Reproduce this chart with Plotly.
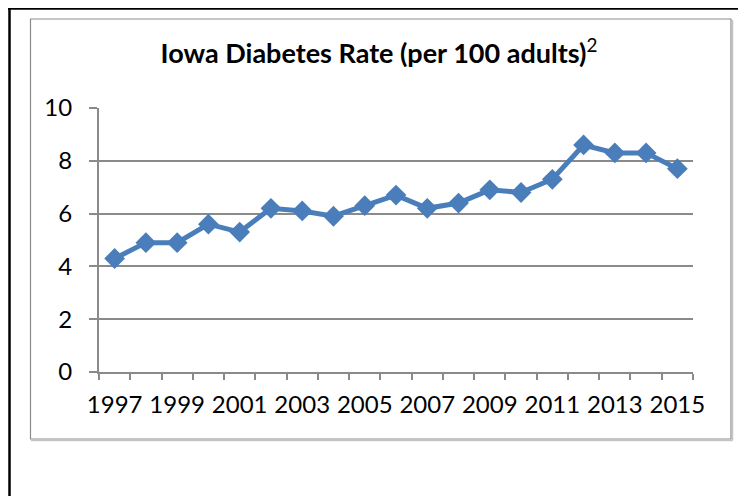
import plotly.graph_objects as go

years = [str(y) for y in range(1997, 2016)]
rates = [4.3, 4.9, 4.9, 5.6, 5.3, 6.2, 6.1, 5.9, 6.3, 6.7, 6.2, 6.4, 6.9, 6.8, 7.3, 8.6, 8.3, 8.3, 7.7]
year_labels = [y if int(y) % 2 == 1 else "" for y in years]
y_ticks = [0, 2, 4, 6, 8, 10]
title_text = "<b>Iowa Diabetes Rate (per 100 adults)</b><sup>2</sup>"

# page has an 8px body margin: figure coords = page coords - 8
OFF = 8
W, H = 746 - OFF, 496 - OFF
L, R, T, B = 99 - OFF, 693 - OFF, 108 - OFF, 372 - OFF

def px(x):
    return (x - OFF - L) / (R - L)

def py(y):
    return (B - (y - OFF)) / (B - T)

fig = go.Figure()
fig.add_trace(go.Scatter(
    x=years, y=rates, mode="lines+markers",
    line=dict(color="#4A7EBB", width=5),
    marker=dict(symbol="diamond", size=16, color="#4A7EBB"),
    cliponaxis=False, showlegend=False,
))

shapes = [
    dict(type="rect", xref="paper", yref="paper",
         x0=px(30.5), x1=px(731), y0=py(19), y1=py(439),
         line=dict(color="#8c8c8c", width=1.2), layer="below"),
    dict(type="line", xref="paper", yref="paper",
         x0=px(31), x1=px(732.5), y0=py(440.5), y1=py(440.5),
         line=dict(color="#c4c4c4", width=1.5)),
    dict(type="line", xref="paper", yref="paper",
         x0=px(732.5), x1=px(732.5), y0=py(20), y1=py(440.5),
         line=dict(color="#c4c4c4", width=1.5)),
    dict(type="line", xref="paper", yref="paper",
         x0=px(8), x1=px(746), y0=py(8.5), y1=py(8.5),
         line=dict(color="black", width=2.5)),
    dict(type="line", xref="paper", yref="paper",
         x0=px(9.5), x1=px(9.5), y0=py(8), y1=py(497),
         line=dict(color="black", width=2.5)),
]

tick_font = dict(family="Lato", size=24, color="black")

fig.update_layout(
    width=W, height=H,
    margin=dict(l=L, r=W - R, t=T, b=H - B, autoexpand=False),
    paper_bgcolor="white", plot_bgcolor="white",
    font=dict(family="Lato", size=24, color="black"),
    title=dict(text=title_text, xref="container", yref="container",
               x=(379 - OFF) / W, y=1 - (54 - OFF) / H, xanchor="center", yanchor="middle",
               font=dict(family="Lato", size=27, color="black")),
    shapes=shapes,
    xaxis=dict(
        type="category", tickmode="array", tickvals=years, ticktext=year_labels,
        tickson="boundaries", ticks="outside", ticklen=6, tickwidth=1.5,
        tickcolor="#8a8a8a", showline=True, linecolor="#8a8a8a", linewidth=2,
        showgrid=False, zeroline=False, ticklabelstandoff=10,
        tickangle=0, automargin=False, range=[-0.5, 18.5],
        tickfont=tick_font,
    ),
    yaxis=dict(
        range=[0, 10], tickvals=y_ticks, ticks="outside", ticklen=8, tickwidth=1.5,
        tickcolor="#8a8a8a", showline=True, linecolor="#8a8a8a", linewidth=2,
        showgrid=True, gridcolor="#8a8a8a", gridwidth=2, zeroline=False,
        ticklabelstandoff=12, automargin=False,
        tickfont=tick_font,
    ),
)

fig.write_html("out.html")
